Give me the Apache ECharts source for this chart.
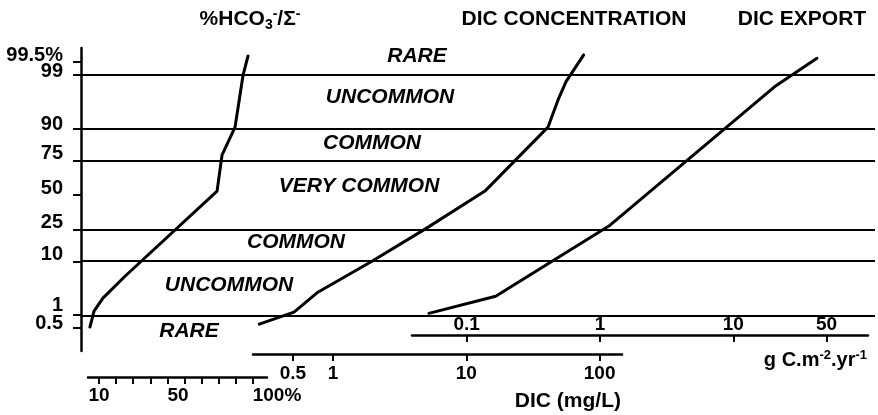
<!DOCTYPE html>
<html>
<head>
<meta charset="utf-8">
<script src="https://cdn.jsdelivr.net/npm/echarts@6/dist/echarts.min.js"></script>
<style>
  html, body { margin: 0; padding: 0; background: #fff; }
  #chart { width: 878px; height: 415px; }
</style>
</head>
<body>
<div id="chart"></div>
<script>
// ---- data -------------------------------------------------------------
// cumulative frequency (%) on a normal-probability scale
const probTicks = [0.5, 1, 10, 25, 50, 75, 90, 99, 99.5];
const probTickLabels = ['0.5', '1', '10', '25', '50', '75', '90', '99', '99.5%'];
const bandLines = [1, 10, 25, 75, 90, 99];
const bandNames = ['RARE', 'UNCOMMON', 'COMMON', 'VERY COMMON', 'COMMON', 'UNCOMMON', 'RARE'];

// %HCO3- / sum of anions
const hco3Pct = [4.7, 7.1, 12.3, 25.2, 79.0, 81.9, 89.5, 94.2, 97.1];
const hco3Cum = [0.53, 1.23, 2.3, 5.8, 53.1, 78.1, 90.6, 99.0, 99.65];

// DIC concentration (mg/L)
const dicConc = [0.28, 0.51, 0.77, 1.96, 4.9, 13.8, 41.0, 48.7, 56.0, 76.0];
const dicConcCum = [0.62, 1.17, 3.0, 10.0, 25.5, 53.1, 90.6, 96.7, 98.6, 99.67];

// DIC export (g C m-2 yr-1)
const dicExport = [0.052, 0.165, 1.19, 20.9, 42.4];
const dicExportCum = [1.1, 2.5, 28.0, 98.3, 99.6];

// axis ticks
const hco3Ticks = [10, 20, 30, 40, 50, 60, 70, 80, 90, 100];
const hco3TickLabels = [10, 50, 100];
const dicTicks = [0.5, 1, 10, 100];
const exportTicks = [0.1, 1, 10, 50];

// ---- helpers ----------------------------------------------------------
// inverse standard normal CDF (Acklam's rational approximation)
function probit(p) {
  const a = [-3.969683028665376e+01, 2.209460984245205e+02, -2.759285104469687e+02, 1.383577518672690e+02, -3.066479806614716e+01, 2.506628277459239e+00];
  const b = [-5.447609879822406e+01, 1.615858368580409e+02, -1.556989798598866e+02, 6.680131188771972e+01, -1.328068155288572e+01];
  const c = [-7.784894002430293e-03, -3.223964580411365e-01, -2.400758277161838e+00, -2.549732539343734e+00, 4.374664141464968e+00, 2.938163982698783e+00];
  const d = [7.784695709041462e-03, 3.224671290700398e-01, 2.445134137142996e+00, 3.754408661907416e+00];
  const plow = 0.02425, phigh = 1 - plow;
  let q, r;
  if (p < plow) {
    q = Math.sqrt(-2 * Math.log(p));
    return (((((c[0]*q+c[1])*q+c[2])*q+c[3])*q+c[4])*q+c[5]) / ((((d[0]*q+d[1])*q+d[2])*q+d[3])*q+1);
  }
  if (p > phigh) {
    q = Math.sqrt(-2 * Math.log(1 - p));
    return -(((((c[0]*q+c[1])*q+c[2])*q+c[3])*q+c[4])*q+c[5]) / ((((d[0]*q+d[1])*q+d[2])*q+d[3])*q+1);
  }
  q = p - 0.5; r = q * q;
  return (((((a[0]*r+a[1])*r+a[2])*r+a[3])*r+a[4])*r+a[5])*q / (((((b[0]*r+b[1])*r+b[2])*r+b[3])*r+b[4])*r+1);
}
const z = pct => probit(pct / 100);
const pairs = (xs, cums) => xs.map((x, i) => [x, z(cums[i])]);

// ---- layout -----------------------------------------------------------
const FONT = '"Liberation Sans", Arial, Helvetica, sans-serif';
const PLOT_TOP = 48, PLOT_BOTTOM = 351;
const Z_TOP = 2.85, Z_BOTTOM = -3.02;
const PX_PER_Z = (PLOT_BOTTOM - PLOT_TOP) / (Z_TOP - Z_BOTTOM);
const H = 415;
// z at a given pixel row, so every curve panel shares the same vertical scale
const zAt = py => Z_TOP - (py - PLOT_TOP) / PX_PER_Z;

const AXIS_W = 2.5;
const black = '#000';
const TICK_FONT = 19;

function xAxisBase(extra) {
  return Object.assign({
    position: 'bottom',
    axisLine: { show: true, onZero: false, lineStyle: { color: black, width: AXIS_W } },
    splitLine: { show: false },
    minorTick: { show: false }
  }, extra);
}
function hiddenY(gridIndex, bottomPx) {
  return { type: 'value', gridIndex, min: zAt(bottomPx), max: Z_TOP, show: false };
}
const tickStyle = values => ({ show: true, length: 7, customValues: values, lineStyle: { color: black, width: 2 } });
const labelBase = {
  color: black, fontFamily: FONT, fontWeight: 'bold', fontSize: TICK_FONT,
  hideOverlap: false, showMinLabel: true, showMaxLabel: true
};
const fmtNum = v => String(+Number(v).toPrecision(3));

// y-axis label lift (labels sit slightly above their tick)
const liftFor = { '1': 10, '0.5': 5, '99': 4, '90': 4 };
const yRich = {};
probTickLabels.forEach((t, i) => {
  const lift = liftFor[t] !== undefined ? liftFor[t] : 7;
  yRich['y' + i] = { fontFamily: FONT, fontWeight: 'bold', fontSize: 20, color: black, padding: [0, 0, lift * 2, 0] };
});
const probZ = probTicks.map(z);
// blank end slots keep the axis from dropping the outermost real labels
const probLabelZ = [Z_BOTTOM].concat(probZ, [Z_TOP]);

// HCO3 panel: 10..100 %, first tick at x=99, last at x=253
const HCO3_LEFT = 88, HCO3_RIGHT = 267, HCO3_AXIS_Y = 377;
const hco3PxPerUnit = (253 - 99) / 90;
const hco3Min = 10 - (99 - HCO3_LEFT) / hco3PxPerUnit;
const hco3Max = 100 + (HCO3_RIGHT - 253) / hco3PxPerUnit;

// DIC concentration panel (log), 1 mg/L at x=333, one decade = 133.3 px
const DIC_LEFT = 253, DIC_RIGHT = 622, DIC_AXIS_Y = 354;
const dicMin = Math.pow(10, (DIC_LEFT - 333) / 133.3);
const dicMax = Math.pow(10, (DIC_RIGHT - 333) / 133.3);

// DIC export panel (log), 1 g at x=600, one decade = 133.3 px
const EXP_LEFT = 412, EXP_RIGHT = 868, EXP_AXIS_Y = 335;
const expMin = Math.pow(10, (EXP_LEFT - 600) / 133.3);
const expMax = Math.pow(10, (EXP_RIGHT - 600) / 133.3);

const gridCommon = { containLabel: false, outerBoundsMode: 'none' };

const lineSeries = (name, data, idx) => ({
  name, type: 'line', xAxisIndex: idx, yAxisIndex: idx, data,
  symbol: 'none', smooth: false, clip: false, silent: true,
  lineStyle: { color: black, width: 3, cap: 'round', join: 'round' }
});

const bandLabelPos = [[417, 56], [390, 97], [372, 143], [359, 186], [296, 242], [229, 285], [189, 331]];

const textEl = (x, y, text, opts) => ({
  type: 'text', x, y, silent: true,
  style: Object.assign({
    text, fill: black, font: 'bold 21px ' + FONT,
    align: 'center', verticalAlign: 'middle', textAlign: 'center', textVerticalAlign: 'middle'
  }, opts || {})
});

const option = {
  animation: false,
  backgroundColor: '#fff',
  grid: [
    Object.assign({ left: 81, right: 3, top: PLOT_TOP, bottom: H - PLOT_BOTTOM }, gridCommon),
    Object.assign({ left: HCO3_LEFT, width: HCO3_RIGHT - HCO3_LEFT, top: PLOT_TOP, bottom: H - HCO3_AXIS_Y }, gridCommon),
    Object.assign({ left: DIC_LEFT, width: DIC_RIGHT - DIC_LEFT, top: PLOT_TOP, bottom: H - DIC_AXIS_Y }, gridCommon),
    Object.assign({ left: EXP_LEFT, width: EXP_RIGHT - EXP_LEFT, top: PLOT_TOP, bottom: H - EXP_AXIS_Y }, gridCommon)
  ],
  xAxis: [
    { type: 'value', gridIndex: 0, min: 0, max: 1, show: false },
    xAxisBase({
      type: 'value', gridIndex: 1, min: hco3Min, max: hco3Max,
      axisTick: tickStyle(hco3Ticks),
      axisLabel: Object.assign({}, labelBase, {
        customValues: hco3TickLabels, margin: 9,
        formatter: v => v === 10 ? '{c|10}' : (v === 50 ? '{l|50}' : '{p|100%}'),
        rich: {
          c: { fontFamily: FONT, fontWeight: 'bold', fontSize: TICK_FONT, color: black },
          l: { fontFamily: FONT, fontWeight: 'bold', fontSize: TICK_FONT, color: black, padding: [0, 0, 0, 21] },
          p: { fontFamily: FONT, fontWeight: 'bold', fontSize: TICK_FONT, color: black, padding: [0, 0, 0, 48] }
        }
      })
    }),
    xAxisBase({
      type: 'log', logBase: 10, gridIndex: 2, min: dicMin, max: dicMax,
      axisTick: tickStyle(dicTicks),
      axisLabel: Object.assign({}, labelBase, { customValues: dicTicks, margin: 10, formatter: fmtNum })
    }),
    xAxisBase({
      type: 'log', logBase: 10, gridIndex: 3, min: expMin, max: expMax,
      axisTick: tickStyle(exportTicks),
      axisLabel: Object.assign({}, labelBase, { customValues: exportTicks, inside: true, margin: 1, formatter: fmtNum })
    })
  ],
  yAxis: [
    {
      type: 'value', gridIndex: 0, min: Z_BOTTOM, max: Z_TOP,
      axisLine: { show: true, onZero: false, lineStyle: { color: black, width: AXIS_W } },
      axisTick: { show: true, length: 8, customValues: probZ, lineStyle: { color: black, width: 2 } },
      splitLine: { show: false },
      axisLabel: {
        customValues: probLabelZ, margin: 18, hideOverlap: false,
        formatter: v => {
          let best = 0;
          probZ.forEach((pz, i) => { if (Math.abs(pz - v) < Math.abs(probZ[best] - v)) best = i; });
          if (Math.abs(probZ[best] - v) > 0.01) return '';
          return '{y' + best + '|' + probTickLabels[best] + '}';
        },
        rich: yRich
      }
    },
    hiddenY(1, HCO3_AXIS_Y),
    hiddenY(2, DIC_AXIS_Y),
    hiddenY(3, EXP_AXIS_Y)
  ],
  series: [
    {
      name: 'bands', type: 'line', xAxisIndex: 0, yAxisIndex: 0, data: [],
      silent: true,
      markLine: {
        silent: true, symbol: ['none', 'none'], animation: false,
        label: { show: false },
        lineStyle: { color: black, width: 2, type: 'solid' },
        emphasis: { disabled: true },
        data: bandLines.map(p => ({ yAxis: z(p) }))
      }
    },
    lineSeries('%HCO3', pairs(hco3Pct, hco3Cum), 1),
    lineSeries('DIC concentration', pairs(dicConc, dicConcCum), 2),
    lineSeries('DIC export', pairs(dicExport, dicExportCum), 3)
  ],
  graphic: [
    // panel titles
    textEl(250, 19, '%HCO{sub|3}{sup|-}/Σ{sup|-}', {
      rich: {
        sub: { font: 'bold 14px ' + FONT, fill: black, padding: [12, 0, 0, 0] },
        sup: { font: 'bold 14px ' + FONT, fill: black, padding: [0, 0, 10, 0] }
      }
    }),
    textEl(574, 19, 'DIC CONCENTRATION'),
    textEl(802, 19, 'DIC EXPORT'),
    // axis titles
    textEl(621, 401, 'DIC (mg/L)', { align: 'right', textAlign: 'right' }),
    textEl(867, 360, 'g C.m{sup|-2}.yr{sup|-1}', {
      align: 'right', textAlign: 'right', font: 'bold 20px ' + FONT,
      rich: { sup: { font: 'bold 13px ' + FONT, fill: black, padding: [0, 0, 10, 0] } }
    })
  ].concat(bandNames.map((n, i) =>
    textEl(bandLabelPos[i][0], bandLabelPos[i][1], n, { font: 'italic bold 21px ' + FONT })
  ))
};

const chart = echarts.init(document.getElementById('chart'), null, { renderer: 'canvas' });
chart.setOption(option);
</script>
</body>
</html>
